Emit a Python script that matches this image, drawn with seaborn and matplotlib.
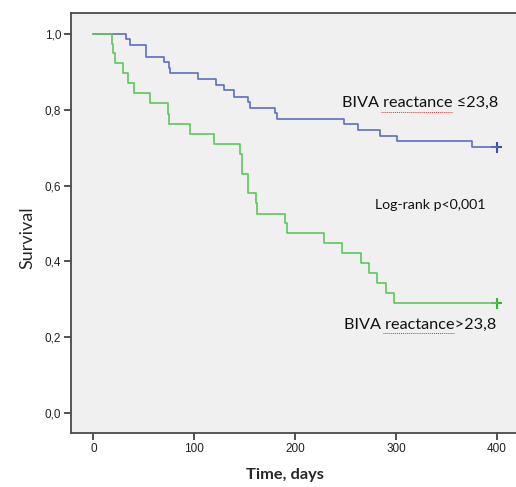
import numpy as np
import pandas as pd
import matplotlib
matplotlib.use("Agg")
import matplotlib.pyplot as plt
import seaborn as sns

# Kaplan-Meier estimates: event times (days) and survival after each step
low_times = [0, 32, 36, 52, 70, 75, 76, 104, 122, 129, 139, 153, 155, 180, 182,
             248, 262, 284, 301, 375, 400]
low_surv = [1.0, 0.986, 0.970, 0.940, 0.925, 0.909, 0.896, 0.880, 0.866, 0.851,
            0.835, 0.821, 0.806, 0.791, 0.777, 0.762, 0.746, 0.732, 0.717,
            0.701, 0.701]

high_times = [0, 18, 19, 21, 29, 34, 40, 56, 74, 75, 96, 120, 145, 147, 153,
              161, 162, 190, 192, 229, 246, 265, 273, 281, 290, 298, 400]
high_surv = [1.0, 0.974, 0.949, 0.923, 0.896, 0.870, 0.844, 0.817, 0.789, 0.763,
             0.736, 0.710, 0.683, 0.631, 0.580, 0.553, 0.526, 0.500, 0.474,
             0.448, 0.421, 0.395, 0.369, 0.342, 0.316, 0.289, 0.289]

groups = ["BIVA reactance ≤23,8", "BIVA reactance>23,8"]
censor_time = 400

x_ticks = [0, 100, 200, 300, 400]
y_ticks = [0.0, 0.2, 0.4, 0.6, 0.8, 1.0]
y_tick_labels = ["0,0", "0,2", "0,4", "0,6", "0,8", "1,0"]

df = pd.concat([
    pd.DataFrame({"time": low_times, "surv": low_surv, "group": groups[0]}),
    pd.DataFrame({"time": high_times, "surv": high_surv, "group": groups[1]}),
], ignore_index=True)

blue = "#5a6fc2"
green = "#5cc85c"
palette = {groups[0]: blue, groups[1]: green}

sns.set_style("ticks")
plt.rcParams["font.family"] = ["Liberation Sans", "DejaVu Sans"]

fig = plt.figure(figsize=(5.16, 4.87), dpi=100)
ax = fig.add_axes([71 / 516, 53.7 / 487, 1 - 71 / 516 + 0.002, (433.3 - 13.3) / 487])
ax.set_facecolor("#f0f0f0")

sns.lineplot(data=df, x="time", y="surv", hue="group", palette=palette,
             drawstyle="steps-post", linewidth=1.2, legend=False, ax=ax,
             estimator=None, sort=False)

# censoring marks at the end of follow-up
end = df[df["time"] == censor_time]
sns.scatterplot(data=end, x="time", y="surv", hue="group",
                palette={groups[0]: "#3a4fb5", groups[1]: "#2fb82f"},
                marker="+", s=60, linewidth=1.5, legend=False, ax=ax)

ax.set_xlim(-22.2, 420)
ax.set_ylim(-0.0536, 1.0546)
ax.set_xticks(x_ticks)
ax.set_xticklabels([str(t) for t in x_ticks])
ax.set_yticks(y_ticks)
ax.set_yticklabels(y_tick_labels)
ax.tick_params(axis="both", length=5, width=1.2, color="#333333",
               labelsize=8.5, labelcolor="#222222", pad=2)

for side in ["left", "bottom", "top"]:
    ax.spines[side].set_color("#4a4a4a")
    ax.spines[side].set_linewidth(1.3)
ax.spines["right"].set_visible(False)

ax.set_xlabel("")
ax.set_ylabel("")
fig.text(285 / 516, 1 - 475 / 487, "Time, days", ha="center", va="center",
         fontsize=11.8, fontweight="bold", family=["Lato", "DejaVu Sans"])
fig.text(27 / 516, 1 - 238 / 487, "Survival", ha="center", va="center",
         rotation=90, fontsize=13, family=["Lato", "DejaVu Sans"])

label_font = dict(fontsize=11.7, family=["Lato", "DejaVu Sans"], color="#111111",
                  ha="left", va="center")
ax.text(246.5, 0.817, groups[0], **label_font)
ax.text(279.6, 0.549, "Log-rank p<0,001", fontsize=10.2,
        family=["Lato", "DejaVu Sans"], color="#111111", ha="left", va="center")
ax.text(248.0, 0.232, groups[1], **label_font)

# spell-check style underline beneath "reactance"
ax.plot([285.6, 357], [0.795, 0.795], color="#e03030", lw=0.7, ls=(0, (1, 1)))
ax.plot([287.3, 358.3], [0.210, 0.210], color="#e03030", lw=0.7, ls=(0, (1, 1)))

fig.savefig("out.png", dpi=100, facecolor="white")
